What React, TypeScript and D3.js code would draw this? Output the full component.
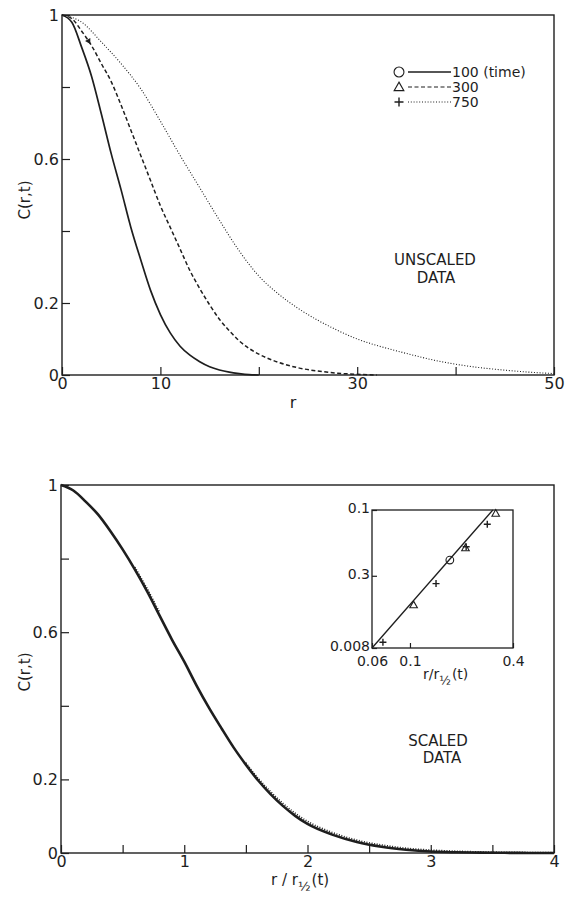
import React, { useRef, useEffect } from 'react';
import * as d3 from 'd3';

// ---- top panel: unscaled data ----
const rTicks = [0, 10, 20, 30, 40, 50];
const rTickLabels = ['0', '10', '', '30', '', '50'];
const cTicks = [0, 0.2, 0.4, 0.6, 0.8, 1];
const cTickLabels = ['0', '0.2', '', '0.6', '', '1'];

const r100 = [0, 1, 2, 3, 4, 5, 6, 7, 8, 9, 10, 11, 12, 13, 14, 15, 16, 17, 18, 19, 20];
const c100 = [1, 0.98, 0.91, 0.83, 0.725, 0.615, 0.515, 0.41, 0.32, 0.235, 0.168, 0.117, 0.08, 0.055, 0.037, 0.023, 0.014, 0.008, 0.004, 0.001, 0];

const r300 = [0, 1, 2, 3, 4, 5, 6, 7, 8, 9, 10, 11, 12, 13, 14, 15, 16, 17, 18, 19, 20, 22, 24, 26, 28, 30, 32];
const c300 = [1, 0.99, 0.955, 0.915, 0.865, 0.815, 0.75, 0.68, 0.61, 0.54, 0.47, 0.41, 0.35, 0.29, 0.24, 0.195, 0.155, 0.123, 0.095, 0.074, 0.058, 0.035, 0.02, 0.011, 0.005, 0.002, 0];

const r750 = [0, 2, 4, 6, 8, 10, 12, 14, 16, 18, 20, 22, 24, 26, 28, 30, 32, 34, 36, 38, 40, 42, 44, 46, 48, 50];
const c750 = [1, 0.98, 0.925, 0.865, 0.795, 0.705, 0.61, 0.52, 0.43, 0.345, 0.275, 0.225, 0.185, 0.152, 0.124, 0.1, 0.082, 0.067, 0.053, 0.04, 0.03, 0.022, 0.016, 0.011, 0.007, 0.004];

// marker seen on the 300 curve near the top
const markR = [2.7];
const markC = [0.928];

const legendLabels = ['100 (time)', '300', '750'];
const legendMarks = ['circle', 'triangle', 'plus'];
const legendDash = ['none', '4,2.5', '1,1.8'];

// ---- bottom panel: scaled data ----
const sTicks = [0, 0.5, 1, 1.5, 2, 2.5, 3, 3.5, 4];
const sTickLabels = ['0', '', '1', '', '2', '', '3', '', '4'];
const sX = [0, 0.1, 0.2, 0.3, 0.4, 0.5, 0.6, 0.7, 0.8, 0.9, 1, 1.1, 1.2, 1.3, 1.4, 1.5, 1.6, 1.7, 1.8, 1.9, 2, 2.2, 2.4, 2.6, 2.8, 3, 3.2, 3.4, 3.6, 3.8, 4];
const sC = [1, 0.985, 0.955, 0.92, 0.875, 0.825, 0.77, 0.71, 0.645, 0.58, 0.52, 0.455, 0.395, 0.34, 0.287, 0.24, 0.197, 0.16, 0.128, 0.101, 0.079, 0.05, 0.03, 0.017, 0.009, 0.004, 0.002, 0.001, 0.0005, 0.0002, 0];
// scatter of the later times sitting just above the curve
const dotX = [1.5, 1.6, 1.7, 1.8, 1.9, 2, 2.2, 2.4, 2.6, 2.8, 3, 3.2, 3.4, 3.6, 3.8, 4];
const dotC = [0.245, 0.203, 0.167, 0.135, 0.108, 0.086, 0.056, 0.035, 0.022, 0.013, 0.008, 0.005, 0.003, 0.002, 0.0015, 0.001];
const dotX2 = [0.6, 0.65, 0.7, 0.75, 0.8];
const dotC2 = [0.777, 0.747, 0.718, 0.686, 0.654];

// ---- inset: 1 - C on log axes ----
const inXTicks = [0.06, 0.1, 0.4];
const inXLabels = ['0.06', '0.1', '0.4'];
const inYTicks = [0.008, 0.03, 0.1];
const inYLabels = ['0.008', '0.3', '0.1'];
const fitX = [0.06, 0.305];
const fitY = [0.008, 0.1];
const ptX = [0.0695, 0.105, 0.142, 0.171, 0.211, 0.213, 0.283, 0.317];
const ptY = [0.0089, 0.0176, 0.026, 0.04, 0.05, 0.051, 0.077, 0.094];
const ptKind = ['plus', 'triangle', 'plus', 'circle', 'triangle', 'plus', 'plus', 'triangle'];

const FONT = '"DejaVu Sans", "Liberation Sans", sans-serif';
const INK = '#1e1e1e';

function marker(g, kind, cx, cy, s) {
    if (kind === 'circle') {
        g.append('circle').attr('cx', cx).attr('cy', cy).attr('r', s * 0.55)
            .attr('fill', 'none').attr('stroke', INK).attr('stroke-width', 1.1);
    } else if (kind === 'triangle') {
        const h = s * 0.9;
        g.append('path')
            .attr('d', `M${cx},${cy - h * 0.6}L${cx + h * 0.6},${cy + h * 0.45}L${cx - h * 0.6},${cy + h * 0.45}Z`)
            .attr('fill', 'none').attr('stroke', INK).attr('stroke-width', 1.1);
    } else {
        const h = s * 0.5;
        g.append('path')
            .attr('d', `M${cx - h},${cy}H${cx + h}M${cx},${cy - h}V${cy + h}`)
            .attr('stroke', INK).attr('stroke-width', 1.4);
    }
}

function styleAxis(g, size) {
    g.attr('font-family', FONT).attr('font-size', size);
    g.selectAll('.domain').remove();
    g.selectAll('.tick line').attr('stroke', INK).attr('stroke-width', 1.2);
    g.selectAll('.tick text').attr('fill', INK);
}

function App() {
    const svgRef = useRef<SVGSVGElement>(null);

    useEffect(() => {
        const svg = d3.select(svgRef.current);
        svg.selectAll('*').remove();
        drawUnscaled(svg);
        drawScaled(svg);
    }, []);

    const drawUnscaled = (svg) => {
        const x = d3.scaleLinear().domain([0, 50]).range([62, 554]);
        const y = d3.scaleLinear().domain([0, 1]).range([375, 15]);
        const g = svg.append('g');

        const line = d3.line<number>()
            .x(p => x(p[0])).y(p => y(p[1]))
            .curve(d3.curveMonotoneX);

        const series = [
            { r: r100, c: c100, dash: legendDash[0], w: 1.7 },
            { r: r300, c: c300, dash: legendDash[1], w: 1.5 },
            { r: r750, c: c750, dash: legendDash[2], w: 1.1 },
        ];
        series.forEach(s => {
            g.append('path')
                .attr('d', line(s.r.map((v, i) => [v, s.c[i]])))
                .attr('fill', 'none').attr('stroke', INK)
                .attr('stroke-width', s.w)
                .attr('stroke-dasharray', s.dash);
        });

        markR.forEach((v, i) => {
            g.append('path')
                .attr('d', d3.symbol(d3.symbolTriangle, 16)())
                .attr('transform', `translate(${x(v)},${y(markC[i])}) rotate(150)`)
                .attr('fill', INK);
        });

        g.append('rect')
            .attr('x', x(0)).attr('y', y(1))
            .attr('width', x(50) - x(0)).attr('height', y(0) - y(1))
            .attr('fill', 'none').attr('stroke', INK).attr('stroke-width', 1.4);

        const xa = g.append('g').attr('transform', `translate(0,${y(0)})`)
            .call(d3.axisBottom(x).tickValues(rTicks).tickFormat((d, i) => rTickLabels[i])
                .tickSize(-8).tickSizeOuter(0).tickPadding(3));
        styleAxis(xa, 16);
        const ya = g.append('g').attr('transform', `translate(${x(0)},0)`)
            .call(d3.axisLeft(y).tickValues(cTicks).tickFormat((d, i) => cTickLabels[i])
                .tickSize(-8).tickSizeOuter(0).tickPadding(3));
        styleAxis(ya, 16);

        g.append('text').attr('x', 293).attr('y', 408)
            .attr('font-family', FONT).attr('font-size', 16).attr('fill', INK)
            .attr('text-anchor', 'middle').text('r');
        g.append('text').attr('transform', 'translate(30,200) rotate(-90)')
            .attr('font-family', FONT).attr('font-size', 15).attr('fill', INK)
            .attr('text-anchor', 'middle').text('C(r,t)');

        // legend
        legendLabels.forEach((lab, i) => {
            const ly = 72 + i * 15;
            marker(g, legendMarks[i], 399, ly, 9);
            g.append('line').attr('x1', 408).attr('x2', 451).attr('y1', ly).attr('y2', ly)
                .attr('stroke', INK).attr('stroke-width', i === 0 ? 1.5 : 1.1)
                .attr('stroke-dasharray', legendDash[i]);
            g.append('text').attr('x', 452).attr('y', ly + 5)
                .attr('font-family', FONT).attr('font-size', 14).attr('fill', INK).text(lab);
        });

        const t = g.append('text').attr('font-family', FONT).attr('font-size', 15)
            .attr('fill', INK).attr('text-anchor', 'middle');
        t.append('tspan').attr('x', 435).attr('y', 265).text('UNSCALED');
        t.append('tspan').attr('x', 436).attr('y', 283).text('DATA');
    };

    const drawScaled = (svg) => {
        const x = d3.scaleLinear().domain([0, 4]).range([61, 554]);
        const y = d3.scaleLinear().domain([0, 1]).range([853, 485]);
        const g = svg.append('g');

        const line = d3.line<number>()
            .x(p => x(p[0])).y(p => y(p[1]))
            .curve(d3.curveMonotoneX);

        g.append('path').attr('d', line(sX.map((v, i) => [v, sC[i]])))
            .attr('fill', 'none').attr('stroke', INK).attr('stroke-width', 2.6);
        [[dotX, dotC], [dotX2, dotC2]].forEach(([xs, cs]) => {
            g.append('path').attr('d', line(xs.map((v, i) => [v, cs[i]])))
                .attr('fill', 'none').attr('stroke', INK).attr('stroke-width', 1.6)
                .attr('stroke-dasharray', '1,1.6');
        });

        g.append('rect')
            .attr('x', x(0)).attr('y', y(1))
            .attr('width', x(4) - x(0)).attr('height', y(0) - y(1))
            .attr('fill', 'none').attr('stroke', INK).attr('stroke-width', 1.4);

        const xa = g.append('g').attr('transform', `translate(0,${y(0)})`)
            .call(d3.axisBottom(x).tickValues(sTicks).tickFormat((d, i) => sTickLabels[i])
                .tickSize(-8).tickSizeOuter(0).tickPadding(3));
        styleAxis(xa, 16);
        const ya = g.append('g').attr('transform', `translate(${x(0)},0)`)
            .call(d3.axisLeft(y).tickValues(cTicks).tickFormat((d, i) => cTickLabels[i])
                .tickSize(-8).tickSizeOuter(0).tickPadding(3));
        styleAxis(ya, 16);

        g.append('text').attr('transform', 'translate(30,672) rotate(-90)')
            .attr('font-family', FONT).attr('font-size', 15).attr('fill', INK)
            .attr('text-anchor', 'middle').text('C(r,t)');

        // x title r / r_1/2 (t)
        const xt = g.append('text').attr('x', 271).attr('y', 885)
            .attr('font-family', FONT).attr('font-size', 15).attr('fill', INK);
        xt.append('tspan').text('r / r');
        xt.append('tspan').attr('font-size', 13).attr('dy', 6).text('½');
        xt.append('tspan').attr('dy', -6).attr('dx', 1).text('(t)');

        const t = g.append('text').attr('font-family', FONT).attr('font-size', 15)
            .attr('fill', INK).attr('text-anchor', 'middle');
        t.append('tspan').attr('x', 438).attr('y', 746).text('SCALED');
        t.append('tspan').attr('x', 442).attr('y', 763).text('DATA');

        // inset
        const ix = d3.scaleLog().domain([0.06, 0.4]).range([372, 513]);
        const iy = d3.scaleLog().domain([0.008, 0.1]).range([648, 510]);
        const ig = g.append('g');
        ig.append('rect')
            .attr('x', ix(0.06)).attr('y', iy(0.1))
            .attr('width', ix(0.4) - ix(0.06)).attr('height', iy(0.008) - iy(0.1))
            .attr('fill', '#fff').attr('stroke', INK).attr('stroke-width', 1.3);
        ig.append('path')
            .attr('d', d3.line<number>().x(p => ix(p[0])).y(p => iy(p[1]))(fitX.map((v, i) => [v, fitY[i]])))
            .attr('stroke', INK).attr('stroke-width', 1.3).attr('fill', 'none');
        ptX.forEach((v, i) => marker(ig, ptKind[i], ix(v), iy(ptY[i]), 7));

        const ixa = ig.append('g').attr('transform', `translate(0,${iy(0.008)})`)
            .call(d3.axisBottom(ix).tickValues(inXTicks).tickFormat((d, i) => inXLabels[i])
                .tickSize(-5).tickSizeOuter(0).tickPadding(8));
        styleAxis(ixa, 14);
        const iya = ig.append('g').attr('transform', `translate(${ix(0.06)},0)`)
            .call(d3.axisLeft(iy).tickValues(inYTicks).tickFormat((d, i) => inYLabels[i])
                .tickSize(-5).tickSizeOuter(0).tickPadding(2));
        styleAxis(iya, 14);
        iya.selectAll('.tick text').attr('dy', '0.2em');

        const it = ig.append('text').attr('x', 423).attr('y', 679)
            .attr('font-family', FONT).attr('font-size', 14).attr('fill', INK);
        it.append('tspan').text('r/r');
        it.append('tspan').attr('font-size', 12).attr('dy', 6).text('½');
        it.append('tspan').attr('dy', -6).attr('dx', 1).text('(t)');
    };

    return (
        <svg ref={svgRef} width={570} height={897}
            style={{ position: 'absolute', left: 0, top: 0, background: '#fff' }} />
    );
}

export default App;
